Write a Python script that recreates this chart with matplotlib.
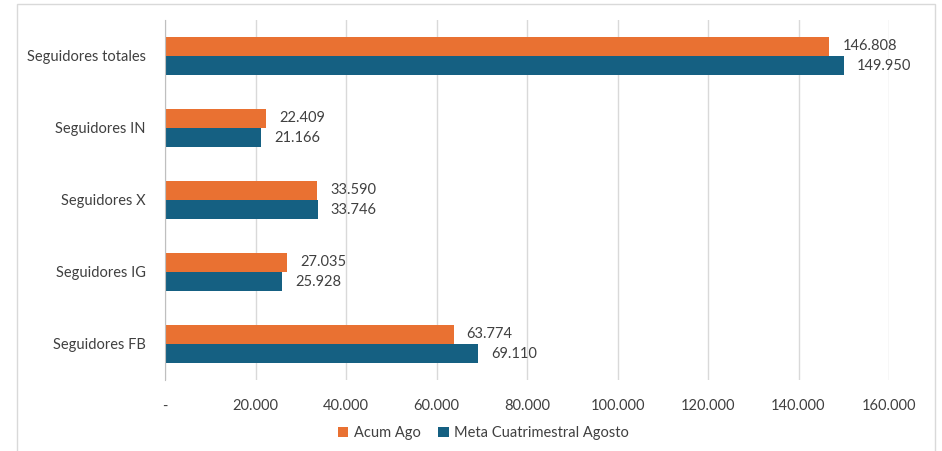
import matplotlib.pyplot as plt
import numpy as np
from matplotlib.patches import Rectangle

# datos del grafico (de arriba hacia abajo)
categorias = ['Seguidores totales', 'Seguidores IN', 'Seguidores X', 'Seguidores IG', 'Seguidores FB']
acum_ago = [146808, 22409, 33590, 27035, 63774]
meta_agosto = [149950, 21166, 33746, 25928, 69110]
ticks_x = [0, 20000, 40000, 60000, 80000, 100000, 120000, 140000, 160000]

naranja = '#E97132'
azul = '#156082'
gris_texto = '#404040'

plt.rcParams['font.family'] = ['Lato', 'DejaVu Sans']

fig = plt.figure(figsize=(9.42, 4.51), dpi=100)
ax = fig.add_axes([165 / 942, 1 - 380 / 451, 724 / 942, 360 / 451])

y = np.arange(len(categorias))
alto = 0.265
ax.barh(y - alto / 2, acum_ago, height=alto, color=naranja, label='Acum Ago')
ax.barh(y + alto / 2, meta_agosto, height=alto, color=azul, label='Meta Cuatrimestral Agosto')


def fmt(v):
    return f'{v:,.0f}'.replace(',', '.')


for i in range(len(categorias)):
    ax.text(acum_ago[i] + 2900, y[i] - alto / 2, fmt(acum_ago[i]), va='center', ha='left',
            fontsize=10.5, color=gris_texto)
    ax.text(meta_agosto[i] + 2900, y[i] + alto / 2, fmt(meta_agosto[i]), va='center', ha='left',
            fontsize=10.5, color=gris_texto)

ax.set_xlim(0, 160000)
ax.set_ylim(len(categorias) - 0.5, -0.5)
ax.set_yticks(y)
ax.set_yticklabels(categorias, fontsize=10.5, color=gris_texto)
ax.set_xticks(ticks_x)
ax.set_xticklabels(['-'] + [fmt(t) for t in ticks_x[1:]], fontsize=10.5, color=gris_texto)
ax.tick_params(axis='both', length=0)
ax.tick_params(axis='x', pad=14)
ax.tick_params(axis='y', pad=14)
ax.grid(axis='x', color='#D9D9D9', linewidth=1)
ax.set_axisbelow(True)
for lado in ['top', 'right', 'bottom']:
    ax.spines[lado].set_visible(False)
ax.spines['left'].set_color('#BFBFBF')

ax.legend(loc='center', bbox_to_anchor=(0.44, -0.147), ncol=2, frameon=False,
          fontsize=10.5, handlelength=0.7, handleheight=0.7, columnspacing=1.2,
          handletextpad=0.4, labelcolor=gris_texto)

# marco gris del grafico
fig.patches.append(Rectangle((17 / 942, -0.05), 918 / 942, 1 - 4 / 451 + 0.05,
                             transform=fig.transFigure, fill=False, edgecolor='#D9D9D9', linewidth=1))

fig.savefig('out.png', dpi=100)
